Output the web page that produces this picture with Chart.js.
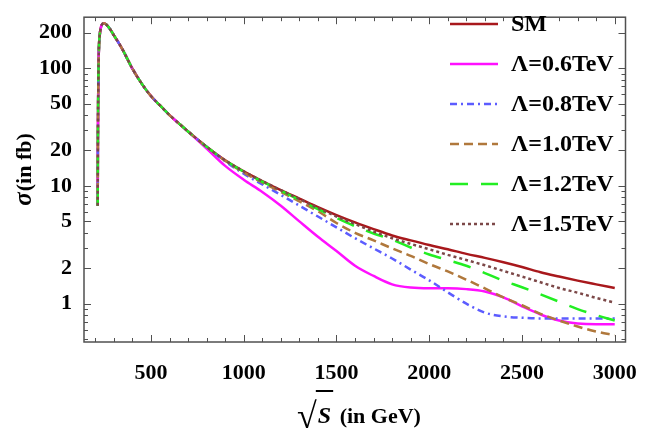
<!DOCTYPE html>
<html>
<head>
<meta charset="utf-8">
<script src="https://cdn.jsdelivr.net/npm/chart.js@4.4.0/dist/chart.umd.min.js"></script>
<style>
  body { margin: 0; background: #fff; }
  #wrap { width: 647px; height: 432px; }
</style>
</head>
<body>
<div id="wrap"><canvas id="xsec-chart" width="647" height="432"></canvas></div>
<script>
// sqrt(S) in GeV
const sqrtS = [213, 214, 216, 219, 224, 230, 238, 247, 260, 280, 300, 325, 350, 375, 400, 450, 500, 550, 600, 650, 700, 800,
  900, 1000, 1100, 1200, 1300, 1400, 1500, 1600, 1700, 1800, 1900, 2000,
  2100, 2200, 2300, 2400, 2500, 2600, 2700, 2800, 2900, 3000];

// sigma in fb
const sigmaSM = [6.8, 25, 70, 140, 192, 222, 237, 241, 234, 214, 190, 165, 141, 118, 99, 74, 58, 48, 40, 34, 29, 21.5,
  16.5, 13.3, 11.0, 9.2, 7.8, 6.6, 5.65, 4.9, 4.3, 3.8, 3.45, 3.15,
  2.9, 2.65, 2.45, 2.25, 2.05, 1.85, 1.7, 1.57, 1.46, 1.36];
const sigma06 = [6.8, 25, 70, 140, 192, 222, 237, 241, 234, 214, 190, 165, 141, 118, 99, 74, 58, 48, 40, 34, 29, 20.8,
  14.8, 11.3, 8.9, 6.8, 5.0, 3.7, 2.8, 2.1, 1.72, 1.46, 1.37, 1.35,
  1.35, 1.33, 1.27, 1.13, 0.95, 0.81, 0.72, 0.68, 0.67, 0.67];
const sigma08 = [6.8, 25, 70, 140, 192, 222, 237, 241, 234, 214, 190, 165, 141, 118, 99, 74, 58, 48, 40, 34, 29, 21.5,
  16.2, 12.7, 10.3, 8.4, 6.8, 5.5, 4.45, 3.6, 2.95, 2.42, 1.95, 1.58,
  1.25, 1.0, 0.84, 0.78, 0.76, 0.75, 0.75, 0.75, 0.75, 0.75];
const sigma10 = [6.8, 25, 70, 140, 192, 222, 237, 241, 234, 214, 190, 165, 141, 118, 99, 74, 58, 48, 40, 34, 29, 21.5,
  16.4, 13.0, 10.7, 8.9, 7.4, 6.1, 4.85, 4.0, 3.45, 2.95, 2.55, 2.17,
  1.88, 1.6, 1.35, 1.13, 0.97, 0.82, 0.72, 0.64, 0.58, 0.54];
const sigma12 = [6.8, 25, 70, 140, 192, 222, 237, 241, 234, 214, 190, 165, 141, 118, 99, 74, 58, 48, 40, 34, 29, 21.5,
  16.5, 13.2, 10.9, 9.1, 7.6, 6.35, 5.35, 4.55, 3.95, 3.5, 3.0, 2.62,
  2.35, 2.1, 1.82, 1.57, 1.38, 1.2, 1.04, 0.9, 0.8, 0.72];
const sigma15 = [6.8, 25, 70, 140, 192, 222, 237, 241, 234, 214, 190, 165, 141, 118, 99, 74, 58, 48, 40, 34, 29, 21.5,
  16.5, 13.3, 11.0, 9.2, 7.75, 6.5, 5.5, 4.75, 4.1, 3.6, 3.22, 2.9,
  2.6, 2.35, 2.12, 1.9, 1.7, 1.52, 1.36, 1.24, 1.12, 1.02];

const labels = ['SM', 'Λ=0.6TeV', 'Λ=0.8TeV', 'Λ=1.0TeV', 'Λ=1.2TeV', 'Λ=1.5TeV'];
const xTicks = [500, 1000, 1500, 2000, 2500, 3000];
const yTicks = [1, 2, 5, 10, 20, 50, 100, 200];

const SERIF = '"Liberation Serif", "Times New Roman", serif';

const series = [
  { data: sigmaSM, color: '#a8181c', dash: [] },
  { data: sigma06, color: '#ff10ff', dash: [] },
  { data: sigma08, color: '#5c5cff', dash: [7, 4, 2, 4] },
  { data: sigma10, color: '#b0783c', dash: [9, 5] },
  { data: sigma12, color: '#22ee22', dash: [18, 13] },
  { data: sigma15, color: '#7c4848', dash: [3, 3] },
];

const datasets = series.map((s, i) => ({
  label: labels[i],
  data: sqrtS.map((x, k) => ({ x: x, y: s.data[k] })),
  borderColor: s.color,
  backgroundColor: s.color,
  borderDash: s.dash,
  borderWidth: 2.5,
  pointRadius: 0,
  fill: false,
  cubicInterpolationMode: 'monotone',
  order: series.length - i,
}));

// frame with inward ticks on all four sides, plus legend and axis titles
const framePlugin = {
  id: 'frame',
  afterDraw(chart) {
    const { ctx, chartArea: a, scales: { x, y } } = chart;
    ctx.save();
    ctx.strokeStyle = '#505050';
    ctx.lineWidth = 1.5;
    ctx.strokeRect(a.left, a.top, a.right - a.left, a.bottom - a.top);

    ctx.lineWidth = 1;
    ctx.beginPath();
    for (let v = 200; v <= 3000; v += 100) {
      const px = Math.round(x.getPixelForValue(v)) + 0.5;
      const len = v % 500 === 0 ? 7 : 4;
      ctx.moveTo(px, a.bottom); ctx.lineTo(px, a.bottom - len);
      ctx.moveTo(px, a.top); ctx.lineTo(px, a.top + len);
    }
    for (let e = -1; e <= 2; e++) {
      for (let m = 1; m <= 9; m++) {
        const v = m * Math.pow(10, e);
        if (v < y.min || v > y.max) continue;
        const py = Math.round(y.getPixelForValue(v)) + 0.5;
        const len = yTicks.includes(Math.round(v * 1000) / 1000) ? 7 : 4;
        ctx.moveTo(a.left, py); ctx.lineTo(a.left + len, py);
        ctx.moveTo(a.right, py); ctx.lineTo(a.right - len, py);
      }
    }
    ctx.stroke();

    // legend
    ctx.font = 'bold 24px ' + SERIF;
    ctx.textBaseline = 'middle';
    ctx.textAlign = 'left';
    chart.data.datasets.forEach((ds, i) => {
      const ly = 24 + i * 40;
      ctx.strokeStyle = ds.borderColor;
      ctx.lineWidth = 2.5;
      ctx.setLineDash(ds.borderDash);
      ctx.beginPath();
      ctx.moveTo(450, ly); ctx.lineTo(498, ly);
      ctx.stroke();
      ctx.setLineDash([]);
      ctx.fillStyle = '#000';
      ctx.fillText(ds.label, 511, ly + 1);
    });

    // x title: sqrt(S) (in GeV)
    ctx.fillStyle = '#000';
    ctx.textBaseline = 'alphabetic';
    const rootFont = '36px ' + SERIF;
    const sFont = 'italic bold 24px ' + SERIF;
    const restFont = 'bold 22px ' + SERIF;
    ctx.font = rootFont; const wRoot = ctx.measureText('√').width;
    ctx.font = sFont; const wS = ctx.measureText('S').width;
    ctx.font = restFont; const wRest = ctx.measureText(' (in GeV)').width;
    let tx = 359 - (wRoot + wS + 4 + wRest) / 2;
    const base = 423;
    ctx.font = rootFont; ctx.fillText('√', tx, base + 5);
    ctx.strokeStyle = '#000'; ctx.lineWidth = 2;
    ctx.beginPath(); ctx.moveTo(tx + wRoot - 1, 391); ctx.lineTo(tx + wRoot + wS + 3, 391); ctx.stroke();
    tx += wRoot + 1;
    ctx.font = sFont; ctx.fillText('S', tx, base);
    tx += wS + 3;
    ctx.font = restFont; ctx.fillText(' (in GeV)', tx, base);

    // y title: sigma (in fb)
    ctx.save();
    ctx.translate(31, 170);
    ctx.rotate(-Math.PI / 2);
    const sigFont = 'italic bold 25px ' + SERIF;
    ctx.font = sigFont; const wSig = ctx.measureText('σ').width;
    ctx.font = restFont; const wFb = ctx.measureText('(in fb)').width;
    let yx = -(wSig + wFb) / 2;
    ctx.font = sigFont; ctx.fillText('σ', yx, 0);
    ctx.font = restFont; ctx.fillText('(in fb)', yx + wSig + 1, 0);
    ctx.restore();

    ctx.restore();
  }
};

const ctx = document.getElementById('xsec-chart');
const myChart = new Chart(ctx, {
  type: 'line',
  data: { datasets: datasets },
  options: {
    responsive: false,
    animation: false,
    layout: { padding: { left: 0, right: 13, top: 3, bottom: 0 } },
    plugins: { legend: { display: false }, tooltip: { enabled: false } },
    scales: {
      x: {
        type: 'linear',
        min: 139,
        max: 3058,
        grid: { display: false },
        border: { display: false },
        afterFit: s => { s.height = 90; },
        afterBuildTicks: s => { s.ticks = xTicks.map(v => ({ value: v })); },
        ticks: {
          padding: 10,
          autoSkip: false,
          maxRotation: 0,
          color: '#000',
          font: { family: SERIF, weight: 'bold', size: 22 },
          callback: v => String(v),
        },
      },
      y: {
        type: 'logarithmic',
        min: 0.473,
        max: 271,
        grid: { display: false },
        border: { display: false },
        afterFit: s => { s.width = 84; },
        afterBuildTicks: s => { s.ticks = yTicks.map(v => ({ value: v })); },
        ticks: {
          padding: 4,
          autoSkip: false,
          color: '#000',
          font: { family: SERIF, weight: 'bold', size: 22 },
          callback: v => String(v),
        },
      },
    },
  },
  plugins: [framePlugin],
});
</script>
</body>
</html>
